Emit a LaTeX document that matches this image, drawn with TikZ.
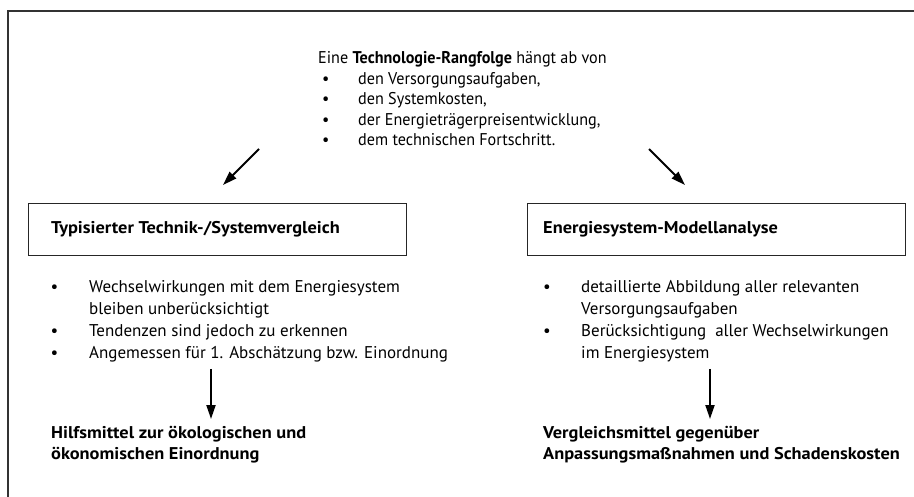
\documentclass[tikz,border=0pt]{standalone}
\usepackage{fontspec}
\setmainfont{PT Sans}[BoldFeatures={FakeStretch=1.08}]
\newfontfamily\narrowfont{PT Sans}[FakeStretch=0.95,BoldFeatures={FakeStretch=0.95}]
\usetikzlibrary{arrows.meta}
\begin{document}
\begin{tikzpicture}[x=1pt,y=-1pt,
  frame/.style={draw=black!80, line width=1.6pt},
  titlebox/.style={draw=black!85, line width=1.1pt, minimum width=378pt, minimum height=52pt, inner sep=0pt},
  boxtitle/.style={inner sep=0pt, anchor=base west, font=\fontsize{17}{20}\selectfont\bfseries},
  body/.style={inner sep=0pt, anchor=base west, align=left, font=\fontsize{17}{22}\selectfont},
  topbody/.style={inner sep=0pt, anchor=base west, align=left, font=\narrowfont\fontsize{17}{20.5}\selectfont},
  result/.style={inner sep=0pt, anchor=base west, align=left, font=\fontsize{17}{21.5}\selectfont\bfseries},
  arr/.style={line width=2pt, -{Triangle[length=14pt,width=9pt]}}
]
\useasboundingbox (0,0) rectangle (914,497);
\draw[frame] (8,497) -- (8,11) -- (914,11);

% top block (base anchor = baseline of the last line)
\node[topbody] (head) at (318,64) {Eine \textbf{Technologie-Rangfolge} hängt ab von};
\node[topbody] (toplist) at (322,146) {%
\makebox[36pt][l]{\textbullet}den Versorgungsaufgaben,\\
\makebox[36pt][l]{\textbullet}den Systemkosten,\\
\makebox[36pt][l]{\textbullet}der Energieträgerpreisentwicklung,\\
\makebox[36pt][l]{\textbullet}dem technischen Fortschritt.};

% diagonal arrows
\coordinate (la1) at (259,149);
\coordinate (la2) at (223,185);
\coordinate (ra1) at (649,149);
\coordinate (ra2) at (685,185);
\draw[arr] (la1) -- (la2);
\draw[arr] (ra1) -- (ra2);

% boxes
\node[titlebox, anchor=north west] (lbox) at (28,203) {};
\node[titlebox, anchor=north west] (rbox) at (527,203) {};
\node[boxtitle] (ltitle) at (51,234) {Typisierter Technik-/Systemvergleich};
\node[boxtitle] (rtitle) at (543,234) {Energiesystem-Modellanalyse};

% lists
\node[body] (llist) at (50.5,358.5) {%
\makebox[38.5pt][l]{\textbullet}Wechselwirkungen mit dem Energiesystem\\
\hspace*{38.5pt}bleiben unberücksichtigt\\
\makebox[38.5pt][l]{\textbullet}Tendenzen sind jedoch zu erkennen\\
\makebox[38.5pt][l]{\textbullet}Angemessen für 1. Abschätzung bzw. Einordnung};
\node[body] (rlist) at (543,358.5) {%
\makebox[38pt][l]{\textbullet}detaillierte Abbildung aller relevanten\\
\hspace*{38pt}Versorgungsaufgaben\\
\makebox[38pt][l]{\textbullet}Berücksichtigung\ \ aller Wechselwirkungen\\
\hspace*{38pt}im Energiesystem};

% results
\node[result] (lres) at (51,459.5) {Hilfsmittel zur ökologischen und\\ökonomischen Einordnung};
\node[result] (rres) at (543,459.5) {Vergleichsmittel gegenüber\\Anpassungsmaßnahmen und Schadenskosten};

\coordinate (lv1) at (211,369);
\coordinate (lv2) at (211,419);
\coordinate (rv1) at (710,369);
\coordinate (rv2) at (710,419);
\draw[arr] (lv1) -- (lv2);
\draw[arr] (rv1) -- (rv2);
\end{tikzpicture}
\end{document}
